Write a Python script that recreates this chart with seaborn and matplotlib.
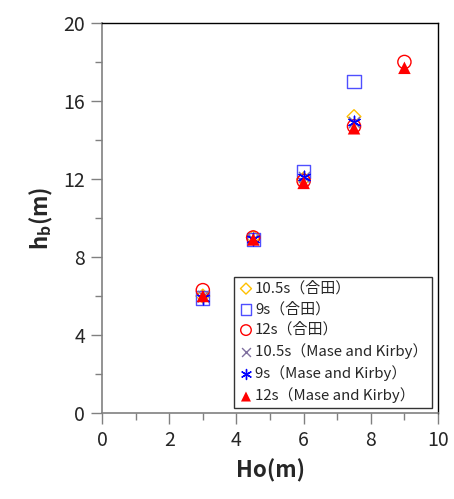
import matplotlib

matplotlib.use("Agg")
import matplotlib.pyplot as plt
import pandas as pd
import seaborn as sns
from matplotlib.ticker import MultipleLocator

# data
x_short = [3.0, 4.5, 6.0, 7.5]
x_long = [3.0, 4.5, 6.0, 7.5, 9.0]
goda_105 = [6.0, 9.0, 12.0, 15.2]
goda_9 = [5.9, 8.9, 12.4, 17.0]
goda_12 = [6.3, 9.0, 11.9, 14.7, 18.0]
mk_105 = [6.0, 8.9, 12.1, 14.9]
mk_9 = [5.9, 8.9, 12.1, 14.9]
mk_12 = [6.0, 8.9, 11.8, 14.6, 17.7]

series = [
    ("10.5s（合田）", x_short, goda_105, "D", "#FFC000", "none", 7),
    ("9s（合田）", x_short, goda_9, "s", "#4F4FFF", "none", 9.5),
    ("12s（合田）", x_long, goda_12, "o", "#FF0000", "none", 9.5),
    ("10.5s（Mase and Kirby）", x_short, mk_105, "x", "#7F6F9F", None, 8),
    ("9s（Mase and Kirby）", x_short, mk_9, (6, 2, 0), "#0000FF", None, 9),
    ("12s（Mase and Kirby）", x_long, mk_12, "^", "#FF0000", "#FF0000", 9),
]

sns.set_theme(style="white")
plt.rcParams["font.family"] = ["Noto Sans CJK JP", "DejaVu Sans"]
plt.rcParams["mathtext.fontset"] = "custom"
plt.rcParams["mathtext.bf"] = "Noto Sans CJK JP:bold"
plt.rcParams["mathtext.rm"] = "Noto Sans CJK JP"

fig = plt.figure(figsize=(4.54, 4.99), dpi=100)
ax = fig.add_axes([0.2247, 0.1723, 0.7401, 0.7817])

for label, xs, ys, marker, color, face, size in series:
    df = pd.DataFrame({"x": xs, "y": ys})
    kw = dict(marker=marker, s=size ** 2, color=color, ax=ax, label=label, zorder=3)
    if face == "none":
        kw.update(facecolors="none", edgecolors=color, linewidths=1.0)
    elif face is None:
        kw.update(linewidths=1.0)
    else:
        kw.update(edgecolors="none")
    sns.scatterplot(data=df, x="x", y="y", **kw)

ax.set_xlim(0, 10)
ax.set_ylim(0, 20)
ax.xaxis.set_major_locator(MultipleLocator(2))
ax.xaxis.set_minor_locator(MultipleLocator(1))
ax.yaxis.set_major_locator(MultipleLocator(4))
ax.yaxis.set_minor_locator(MultipleLocator(2))
ax.tick_params(which="both", direction="out", color="#808080", width=1)
ax.tick_params(which="major", length=8, labelsize=14, pad=4)
ax.tick_params(which="minor", length=5)
ax.tick_params(axis="x", which="both", bottom=True)
ax.tick_params(axis="y", which="both", left=True)

for side in ["left", "bottom"]:
    ax.spines[side].set_color("#808080")
    ax.spines[side].set_linewidth(1.2)
for side in ["top", "right"]:
    ax.spines[side].set_color("black")
    ax.spines[side].set_linewidth(1.0)

ax.set_xlabel("Ho(m)", fontsize=16, fontweight="bold", labelpad=6)
ax.set_ylabel(r"$\mathbf{h_b}$(m)", fontsize=16, fontweight="bold", labelpad=6)

leg = ax.legend(
    loc="lower right",
    bbox_to_anchor=(0.982, 0.013),
    fontsize=10.8,
    frameon=True,
    fancybox=False,
    edgecolor="black",
    borderpad=0.3,
    labelspacing=0.42,
    handletextpad=0.1,
    handlelength=1.0,
    borderaxespad=0,
    markerscale=0.8,
)
leg.get_frame().set_linewidth(1.0)

fig.savefig("out.png", dpi=100)
